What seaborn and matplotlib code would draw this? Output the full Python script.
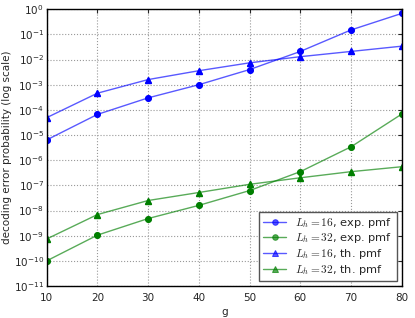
import numpy as np
import pandas as pd
import matplotlib
matplotlib.use("Agg")
import matplotlib.pyplot as plt
import seaborn as sns

g = [10, 20, 30, 40, 50, 60, 70, 80]
l16_exp = [6.4e-6, 6.6e-5, 3.0e-4, 1.0e-3, 4.0e-3, 2.1e-2, 1.5e-1, 6.8e-1]
l32_exp = [1.0e-10, 1.05e-9, 4.8e-9, 1.6e-8, 6.2e-8, 3.5e-7, 3.4e-6, 6.8e-5]
l16_th = [4.9e-5, 4.6e-4, 1.6e-3, 3.6e-3, 7.4e-3, 1.3e-2, 2.1e-2, 3.4e-2]
l32_th = [7.4e-10, 6.9e-9, 2.5e-8, 5.2e-8, 1.1e-7, 2.0e-7, 3.5e-7, 5.5e-7]
labels = [r"$L_h=16$, exp. pmf", r"$L_h=32$, exp. pmf",
          r"$L_h=16$, th. pmf", r"$L_h=32$, th. pmf"]

sns.set_style("white")
plt.rcParams['font.family'] = ['DejaVu Sans']
plt.rcParams['mathtext.fontset'] = 'cm'

fig = plt.figure(figsize=(4.15, 3.18), dpi=100)
ax = fig.add_axes([0.1125, 0.1006, 0.8555, 0.8704])

series = [(l16_exp, "#0000ff", "o", labels[0]),
          (l32_exp, "#007f00", "o", labels[1]),
          (l16_th, "#0000ff", "^", labels[2]),
          (l32_th, "#007f00", "^", labels[3])]
for vals, col, mk, lab in series:
    df = pd.DataFrame({"g": g, "p": vals})
    sns.lineplot(data=df, x="g", y="p", ax=ax, color=col, marker=mk,
                 markersize=4, markeredgecolor=col, markerfacecolor=col,
                 linewidth=1.0, alpha=0.65, label=lab)
# darker markers on top
for vals, col, mk, lab in series:
    ax.plot(g, vals, linestyle="none", marker=mk, markersize=4,
            color=col, markeredgecolor=col)

ax.set_yscale("log")
ax.set_xlim(10, 80)
ax.set_ylim(1e-11, 1)
ax.set_yticks([10.0**k for k in range(-11, 1)])
ax.minorticks_off()
ax.set_xticks(g)
ax.grid(True, linestyle=":", color="#999999", linewidth=0.8)
ax.tick_params(direction="in", top=True, right=True, labelsize=7.5,
               length=3, pad=2)
ax.tick_params(axis="x", pad=5)
for s in ax.spines.values():
    s.set_color("black")
    s.set_linewidth(1.0)
ax.set_xlabel("g", fontsize=7.5, labelpad=3)
ax.set_ylabel("decoding error probability (log scale)", fontsize=7.5,
              labelpad=1)

leg = ax.legend(loc="lower right", fontsize=8.2, fancybox=False,
                framealpha=1, edgecolor="#555555", borderaxespad=0.45,
                handlelength=2.0, labelspacing=0.15, borderpad=0.35)
leg.get_frame().set_linewidth(1.0)

fig.savefig("out.png", dpi=100)
